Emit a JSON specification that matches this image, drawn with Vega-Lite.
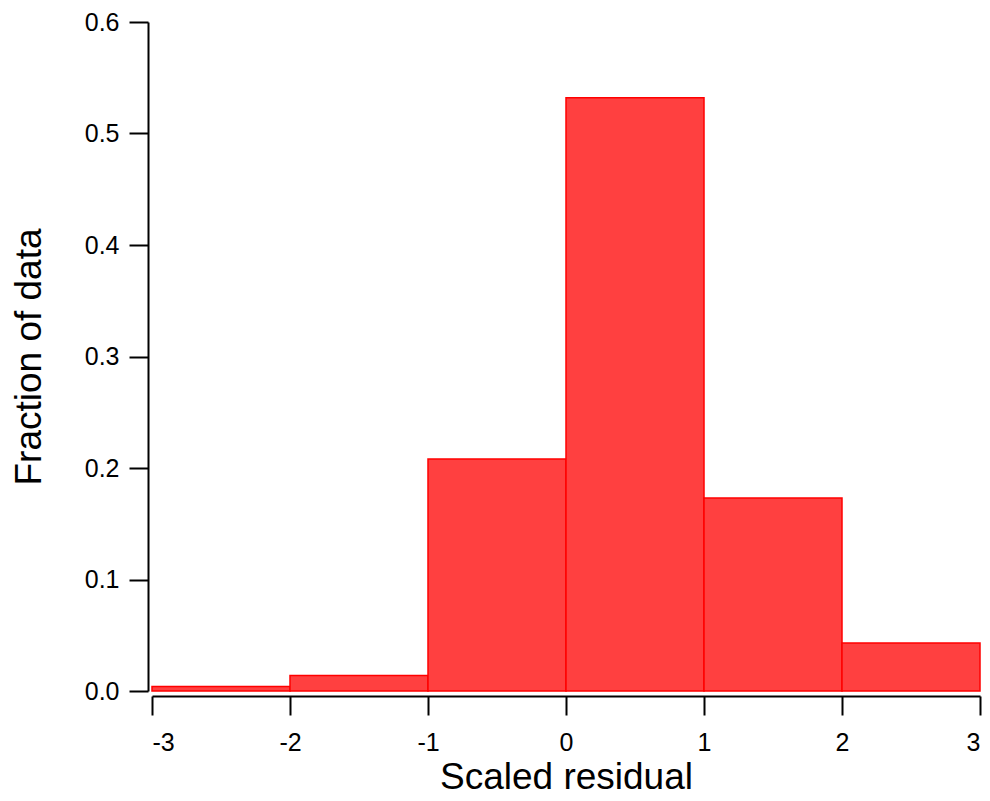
{
  "$schema": "https://vega.github.io/schema/vega-lite/v6.json",
  "autosize": "none",
  "width": 828,
  "height": 669,
  "padding": {"left": 152, "top": 22, "right": 10, "bottom": 110},
  "background": "white",
  "config": {
    "view": {"stroke": null},
    "font": "Liberation Sans",
    "axis": {
      "domainColor": "black",
      "domainWidth": 2,
      "tickColor": "black",
      "tickWidth": 2,
      "tickSize": 19,
      "grid": false,
      "labelColor": "black",
      "titleColor": "black",
      "labelFont": "Liberation Sans",
      "titleFont": "Liberation Sans",
      "labelFontSize": 25,
      "titleFontSize": 37,
      "titleFontWeight": "normal"
    }
  },
  "data": {
    "values": [
      {"bin_start": -3, "bin_end": -2, "fraction": 0.004},
      {"bin_start": -2, "bin_end": -1, "fraction": 0.014},
      {"bin_start": -1, "bin_end": 0, "fraction": 0.208},
      {"bin_start": 0, "bin_end": 1, "fraction": 0.532},
      {"bin_start": 1, "bin_end": 2, "fraction": 0.173},
      {"bin_start": 2, "bin_end": 3, "fraction": 0.043}
    ]
  },
  "mark": {"type": "rect", "fill": "#FF4040", "stroke": "#FF0000", "strokeWidth": 1.5},
  "encoding": {
    "x": {
      "field": "bin_start",
      "type": "quantitative",
      "scale": {"domain": [-3, 3], "nice": false, "zero": false},
      "axis": {"title": "Scaled residual", "values": [-3, -2, -1, 0, 1, 2, 3], "labelExpr": "replace(datum.label, '−', '-')", "offset": 5, "labelPadding": 15, "titlePadding": 4}
    },
    "x2": {"field": "bin_end"},
    "y": {
      "field": "fraction",
      "type": "quantitative",
      "scale": {"domain": [0, 0.6], "nice": false},
      "axis": {"title": "Fraction of data", "values": [0, 0.1, 0.2, 0.3, 0.4, 0.5, 0.6], "format": ".1f", "offset": 4, "labelPadding": 10, "titlePadding": 36}
    },
    "y2": {"datum": 0}
  }
}
